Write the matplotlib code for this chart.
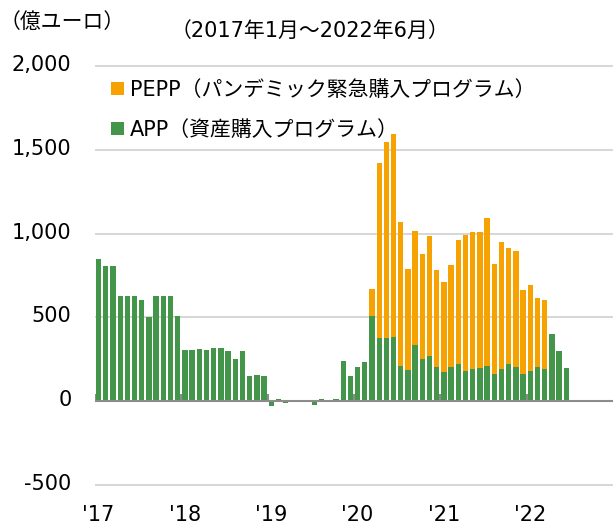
import numpy as np
import matplotlib.pyplot as plt
import matplotlib.transforms as mtransforms

plt.rcParams['font.family'] = ['DejaVu Sans', 'Noto Sans CJK JP']

# 月次純購入額（億ユーロ）, 2017年1月～2022年6月
app = [851, 808, 806, 627, 627, 625, 605, 503, 627, 627, 627, 507,
       305, 305, 311, 308, 318, 316, 300, 251, 300, 152, 156, 152,
       -26, 14, -10, 4, 10, 0, -20, 16, -5, 14, 243, 154,
       206, 237, 507, 378, 378, 384, 212, 188, 336, 251, 273, 206,
       176, 204, 222, 184, 196, 200, 212, 162, 192, 225, 206, 162,
       182, 204, 196, 402, 302, 201]
pepp = [0, 0, 0, 0, 0, 0, 0, 0, 0, 0, 0, 0,
        0, 0, 0, 0, 0, 0, 0, 0, 0, 0, 0, 0,
        0, 0, 0, 0, 0, 0, 0, 0, 0, 0, 0, 0,
        0, 0, 162, 1044, 1165, 1210, 859, 600, 680, 626, 715, 578,
        535, 606, 742, 808, 814, 810, 881, 658, 756, 686, 689, 501,
        509, 410, 406, 0, 0, 0]
year_labels = ["'17", "'18", "'19", "'20", "'21", "'22"]
yticks = [-500, 0, 500, 1000, 1500, 2000]
ytick_labels = ['-500', '0', '500', '1,000', '1,500', '2,000']
n_slots = 72  # 2017年1月～2022年12月の軸幅

green = '#43954a'
orange = '#f6a200'

fig = plt.figure(figsize=(6.13, 5.26), dpi=100)
ax = fig.add_axes([95/613, 40/526, 518/613, 421/526])

x = np.arange(len(app))
b_app = ax.bar(x, app, width=0.74, color=green, zorder=2)
b_pepp = ax.bar(x, pepp, width=0.74, bottom=app, color=orange, zorder=2)

ax.set_xlim(-0.5, n_slots - 0.5)
ax.set_ylim(-503, 2003)
ax.set_yticks(yticks)
ax.set_yticklabels(ytick_labels, fontsize=15)
ax.set_xticks(np.arange(len(year_labels)) * 12)
ax.set_xticklabels(year_labels, fontsize=15)
ax.tick_params(axis='y', length=0, pad=17)
ax.tick_params(axis='x', length=0, pad=14)
for s in ax.spines.values():
    s.set_visible(False)

ax.grid(axis='y', color='#cfcfcf', lw=1.2, zorder=0)
ax.axhline(0, color='#8c8c8c', lw=1.5, zorder=3)
ax.vlines(np.arange(len(year_labels)) * 12 - 0.5, 0, 42, color='#8c8c8c', lw=1.5, zorder=3)

off = mtransforms.ScaledTranslation(0, 3/100, fig.dpi_scale_trans)
for lbl in ax.get_yticklabels():
    lbl.set_transform(lbl.get_transform() + off)

fig.text(0.0, 1 - 22/526, '（億ユーロ）', fontsize=15, ha='left', va='center')
fig.text(310/613, 1 - 31/526, '（2017年1月～2022年6月）', fontsize=15, ha='center', va='center')

fig.legend([b_pepp, b_app],
           ['PEPP（パンデミック緊急購入プログラム）', 'APP（資産購入プログラム）'],
           loc='upper left', bbox_to_anchor=(111/613, 1 - 80/526), frameon=False,
           fontsize=15, handlelength=0.6, handleheight=0.6, handletextpad=0.3,
           labelspacing=0.95, borderpad=0, borderaxespad=0)

plt.savefig('out.png', dpi=100)
